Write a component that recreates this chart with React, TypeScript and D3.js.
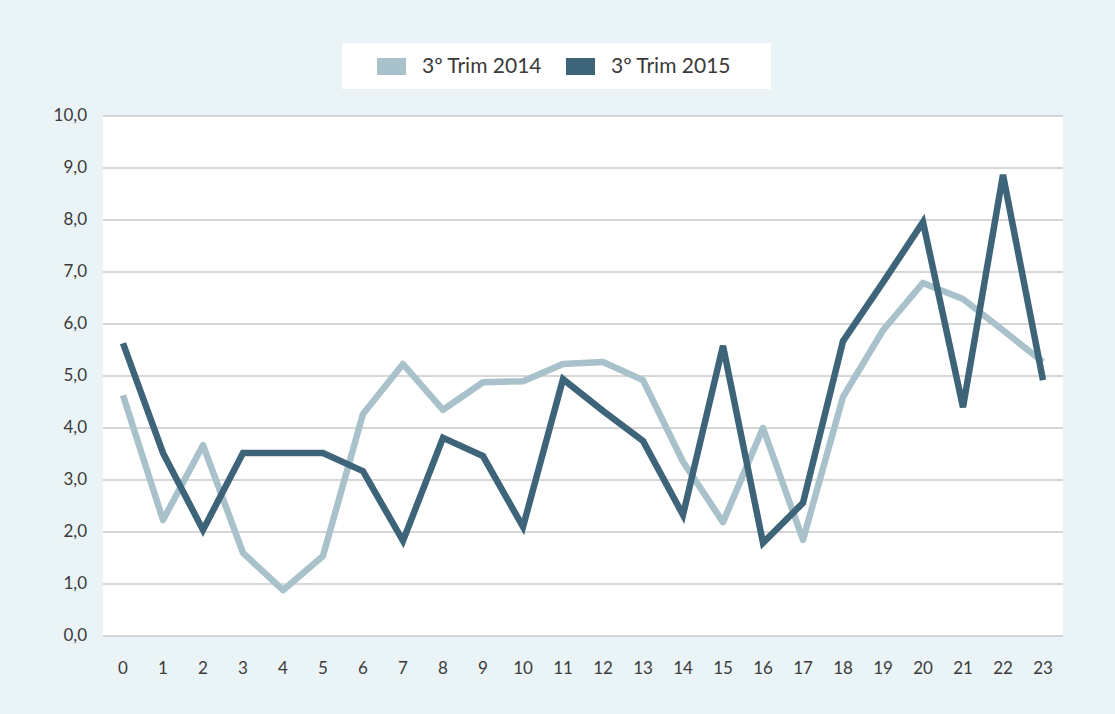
import React, { useRef, useEffect } from 'react'
import * as d3 from 'd3'

const hours = ['0','1','2','3','4','5','6','7','8','9','10','11','12','13','14','15','16','17','18','19','20','21','22','23']
const trim2014 = [4.63, 2.23, 3.67, 1.6, 0.88, 1.54, 4.27, 5.23, 4.35, 4.88, 4.9, 5.23, 5.27, 4.92, 3.35, 2.19, 4.0, 1.85, 4.6, 5.88, 6.79, 6.48, 5.88, 5.27]
const trim2015 = [5.63, 3.52, 2.04, 3.52, 3.52, 3.52, 3.17, 1.83, 3.81, 3.46, 2.1, 4.94, 4.33, 3.75, 2.33, 5.58, 1.79, 2.56, 5.67, 6.8, 7.96, 4.4, 8.87, 4.92]
const yTicks = [0, 1, 2, 3, 4, 5, 6, 7, 8, 9, 10]
const seriesNames = ['3º Trim 2014', '3º Trim 2015']
const seriesColors = ['#a8c1cb', '#3d6478']

export default function App() {
  const canvas = useRef(null)

  const W = 1115
  const H = 714
  const margin = { top: 116, right: 52, bottom: 78, left: 103 }
  const width = W - margin.left - margin.right
  const height = H - margin.top - margin.bottom

  useEffect(() => {
    const root = d3.select(canvas.current)
    root.selectAll('*').remove()
    const font = 'Lato, "Open Sans", sans-serif'

    root.append('rect').attr('width', W).attr('height', H).attr('fill', '#eaf3f6')

    const svg = root.append('g').attr('transform', `translate(${margin.left},${margin.top})`)
    svg.append('rect').attr('width', width).attr('height', height).attr('fill', '#ffffff')

    const x = d3.scaleBand().domain(hours).range([0, width])
    const y = d3.scaleLinear().domain([0, 10]).range([height, 0])

    // grid
    svg.selectAll('.grid').data(yTicks).enter().append('line')
      .attr('x1', 0).attr('x2', width)
      .attr('y1', d => y(d)).attr('y2', d => y(d))
      .attr('stroke', d => d === 0 ? '#d4d4d4' : '#c8c8c8')
      .attr('stroke-width', d => d === 0 ? 2 : 1.3)

    // y labels
    svg.selectAll('.ylab').data(yTicks).enter().append('text')
      .attr('x', -16).attr('y', d => y(d)).attr('dy', '0.32em')
      .attr('text-anchor', 'end')
      .style('font-family', font).style('font-size', '17px').attr('fill', '#3a3a3a')
      .text(d => d3.format('.1f')(d).replace('.', ','))

    // x labels
    svg.selectAll('.xlab').data(hours).enter().append('text')
      .attr('x', d => x(d) + x.bandwidth() / 2).attr('y', height + 38)
      .attr('text-anchor', 'middle')
      .style('font-family', font).style('font-size', '17px').attr('fill', '#3a3a3a')
      .text(d => d)

    const line = d3.line().x((d, i) => x(hours[i]) + x.bandwidth() / 2).y(d => y(d))

    ;[trim2014, trim2015].forEach((s, i) => {
      svg.append('path').datum(s)
        .attr('fill', 'none')
        .attr('stroke', seriesColors[i])
        .attr('stroke-width', 6.5)
        .attr('stroke-linejoin', i === 0 ? 'round' : 'miter')
        .attr('stroke-linecap', 'butt')
        .attr('d', line)
    })

    // legend
    const lg = root.append('g')
    lg.append('rect').attr('x', 342).attr('y', 43).attr('width', 429).attr('height', 46).attr('fill', '#ffffff')
    const items = [{ x: 377, tx: 422 }, { x: 566, tx: 611 }]
    items.forEach((it, i) => {
      lg.append('rect').attr('x', it.x).attr('y', 58).attr('width', 29).attr('height', 17).attr('fill', seriesColors[i])
      lg.append('text').attr('x', it.tx).attr('y', 66).attr('dy', '0.35em')
        .style('font-family', font).style('font-size', '21px').attr('fill', '#3a3a3a')
        .text(seriesNames[i])
    })
  })

  return (
    <div style={{ position: 'fixed', left: 0, top: 0 }}>
      <svg ref={canvas} width={W} height={H} style={{ display: 'block' }} />
    </div>
  )
}
